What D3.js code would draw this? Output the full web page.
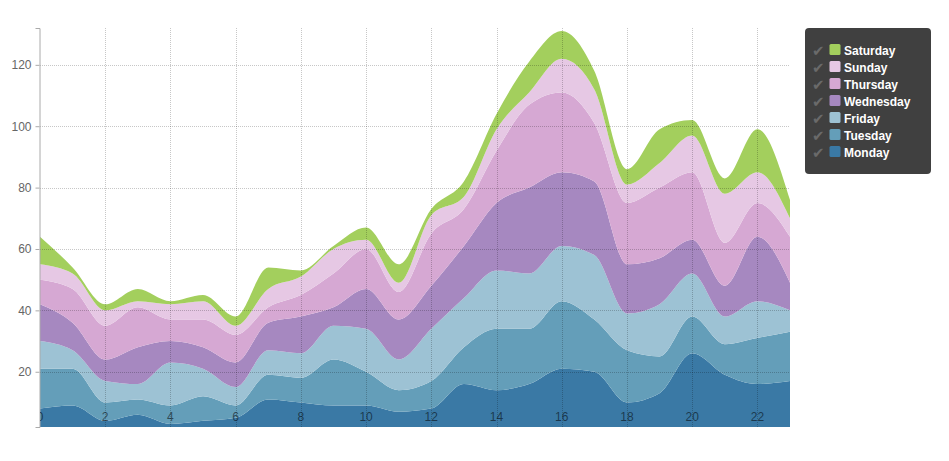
<!DOCTYPE html>
<html>
<head>
<meta charset="utf-8">
<script src="https://cdn.jsdelivr.net/npm/d3@7"></script>
<style>
  body { margin: 0; background: #fff; }
  svg { display: block; font-family: "Liberation Sans", Arial, Helvetica, sans-serif; }
</style>
</head>
<body>
<div id="chart"></div>
<script>
// Stacked area chart: counts per hour of day, one layer per weekday

const hours = [0,1,2,3,4,5,6,7,8,9,10,11,12,13,14,15,16,17,18,19,20,21,22,23];

const monday    = [8,9,4,6,3,4,5,11,10,9,9,7,8,16,14,16,21,20,10,13,26,19,16,17];
const tuesday   = [13,12,6,5,6,8,4,8,8,15,11,7,9,12,20,18,22,17,17,12,12,10,15,16];
const friday    = [9,6,7,5,14,9,6,8,8,11,14,10,17,16,19,18,18,21,12,17,14,9,12,7];
const wednesday = [12,9,7,12,7,7,8,9,12,6,13,13,14,17,22,28,24,24,16,15,11,10,21,9];
const thursday  = [8,11,11,13,7,9,9,5,7,11,13,9,17,12,17,27,26,19,20,23,22,14,11,15];
const sunday    = [5,5,5,2,5,6,3,6,6,8,3,3,6,4,7,4,11,11,6,8,12,16,10,6];
const saturday  = [9,2,2,4,1,2,3,7,2,1,4,6,2,5,5,10,9,6,5,11,5,5,14,6];

// stack order, bottom first
const seriesNames = ["Monday", "Tuesday", "Friday", "Wednesday", "Thursday", "Sunday", "Saturday"];
const seriesValues = [monday, tuesday, friday, wednesday, thursday, sunday, saturday];
const seriesColors = ["#3a79a5", "#649eb9", "#9dc2d4", "#a688c0", "#d6a8d3", "#e6c8e4", "#a3cf5d"];

const xTicks = [0,2,4,6,8,10,12,14,16,18,20,22];
const yTicks = [20,40,60,80,100,120];

(function() {
    const width = 949, height = 461;
    const plot = {left: 40, right: 790, top: 28, bottom: 427};

    const svg = d3.select("#chart")
        .append("svg")
        .attr("width", width)
        .attr("height", height);

    // build rows for d3.stack
    const rows = hours.map((h, i) => {
        const r = {hour: h};
        seriesNames.forEach((name, k) => { r[name] = seriesValues[k][i]; });
        return r;
    });
    const stacked = d3.stack().keys(seriesNames)(rows);

    const x = d3.scaleLinear()
        .domain([0, 23])
        .range([plot.left, plot.right]);

    const y = d3.scaleLinear()
        .domain([2, 132])
        .range([plot.bottom, plot.top]);

    svg.append("defs").append("clipPath")
        .attr("id", "plot-clip")
        .append("rect")
        .attr("x", plot.left)
        .attr("y", plot.top)
        .attr("width", plot.right - plot.left)
        .attr("height", plot.bottom - plot.top);

    // Areas
    const area = d3.area()
        .curve(d3.curveMonotoneX)
        .x(d => x(d.data.hour))
        .y0(d => y(d[0]))
        .y1(d => y(d[1]));

    svg.append("g")
        .attr("clip-path", "url(#plot-clip)")
        .selectAll("path")
        .data(stacked)
        .enter()
        .append("path")
        .attr("fill", (d, i) => seriesColors[i])
        .attr("d", area);

    // Grid lines, drawn over the areas
    const grid = svg.append("g")
        .attr("stroke", "#000")
        .attr("stroke-opacity", 0.22)
        .attr("stroke-dasharray", "1,1")
        .attr("shape-rendering", "crispEdges");

    grid.selectAll("line.v")
        .data(xTicks.filter(t => t > 0))
        .enter()
        .append("line")
        .attr("class", "v")
        .attr("x1", d => Math.round(x(d)) + 0.5)
        .attr("x2", d => Math.round(x(d)) + 0.5)
        .attr("y1", plot.top)
        .attr("y2", plot.bottom);

    grid.selectAll("line.h")
        .data(yTicks)
        .enter()
        .append("line")
        .attr("class", "h")
        .attr("x1", plot.left)
        .attr("x2", plot.right)
        .attr("y1", d => Math.round(y(d)) + 0.5)
        .attr("y2", d => Math.round(y(d)) + 0.5);

    // Y axis
    const yAxis = svg.append("g")
        .attr("transform", `translate(${plot.left - 0.5},0)`)
        .call(d3.axisLeft(y).tickValues(yTicks).tickSize(4).tickSizeOuter(4).tickPadding(4));
    yAxis.select(".domain").attr("stroke", "#aaa");
    yAxis.selectAll(".tick line").attr("stroke", "#aaa");
    yAxis.selectAll(".tick text")
        .attr("fill", "#666")
        .style("font-size", "12px")
        .style("font-family", "\"Liberation Sans\", Arial, sans-serif");

    // X axis labels sit inside the plot, clipped at its left edge
    svg.append("g")
        .attr("clip-path", "url(#plot-clip)")
        .selectAll("text")
        .data(xTicks)
        .enter()
        .append("text")
        .attr("x", d => x(d))
        .attr("y", 421)
        .attr("text-anchor", "middle")
        .attr("fill", "#000")
        .attr("fill-opacity", 0.55)
        .style("font-size", "12px")
        .text(d => d);

    // Legend
    const legend = svg.append("g")
        .attr("transform", "translate(805,28)");

    legend.append("rect")
        .attr("width", 126)
        .attr("height", 146)
        .attr("rx", 4)
        .attr("fill", "#404040");

    const items = legend.selectAll("g.item")
        .data(seriesNames.map((n, i) => ({name: n, color: seriesColors[i]})).reverse())
        .enter()
        .append("g")
        .attr("class", "item")
        .attr("transform", (d, i) => `translate(0,${22 + i * 17})`);

    items.append("text")
        .attr("x", 7)
        .attr("y", 6)
        .attr("fill", "#6a6a6a")
        .style("font-family", "\"DejaVu Sans\", sans-serif")
        .style("font-size", "15px")
        .text("\u2714");

    items.append("rect")
        .attr("x", 24.5)
        .attr("y", -6)
        .attr("width", 11)
        .attr("height", 11)
        .attr("rx", 1.5)
        .attr("fill", d => d.color);

    items.append("text")
        .attr("x", 39)
        .attr("y", 5)
        .attr("fill", "#fff")
        .style("font-size", "12px")
        .style("font-weight", "bold")
        .text(d => d.name);
})();
</script>
</body>
</html>
